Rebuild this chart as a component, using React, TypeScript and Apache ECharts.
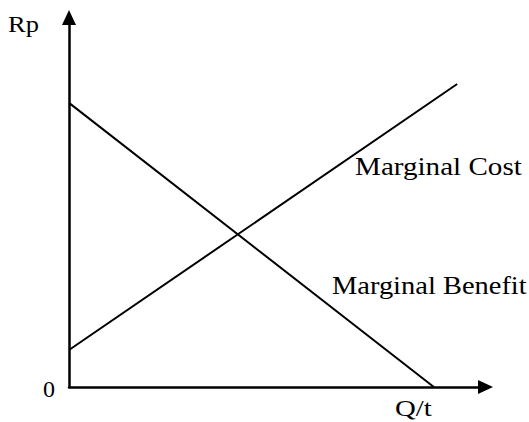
import React, { useEffect, useRef } from "react";
import * as echarts from "echarts";

const marginalBenefit: [number, number][] = [
  [0, 7.69],
  [8.76, 0],
];
const marginalCost: [number, number][] = [
  [0, 1.0],
  [9.32, 8.2],
];
const axisMax = 10;
const labels = {
  y: "Rp",
  origin: "0",
  x: "Q/t",
  cost: "Marginal Cost",
  benefit: "Marginal Benefit",
};

const FONT = "'Liberation Serif', 'Times New Roman', serif";

export default function App() {
  const ref = useRef<HTMLDivElement>(null);
  useEffect(() => {
    if (!ref.current) return;
    const chart = echarts.init(ref.current, undefined, { renderer: "svg" });
    const axisCommon = {
      type: "value" as const,
      min: 0,
      max: axisMax,
      axisLabel: { show: false },
      axisTick: { show: false },
      splitLine: { show: false },
      axisLine: {
        show: true,
        symbol: ["none", "triangle"],
        symbolSize: [14, 15],
        lineStyle: { color: "#000", width: 2.5 },
      },
    };
    const txt = (text: string, x: number, y: number, size: number, sx: number) => ({
      type: "text" as const,
      x,
      y,
      scaleX: sx,
      style: {
        text,
        fontFamily: FONT,
        fontSize: size,
        fill: "#000",
        align: "left",
        verticalAlign: "middle",
      },
    });
    chart.setOption({
      animation: false,
      backgroundColor: "#fff",
      grid: { left: 69, right: 43.5, top: 17.5, bottom: 35 },
      xAxis: axisCommon,
      yAxis: axisCommon,
      series: [
        {
          type: "line",
          data: marginalBenefit,
          symbol: "none",
          lineStyle: { color: "#000", width: 2 },
        },
        {
          type: "line",
          data: marginalCost,
          symbol: "none",
          lineStyle: { color: "#000", width: 2 },
        },
      ],
      graphic: [
        txt(labels.y, 8, 24.5, 23, 1.15),
        txt(labels.origin, 43, 389, 24, 1),
        txt(labels.x, 395, 408, 24, 1.2),
        txt(labels.cost, 355, 166, 26, 1.12),
        txt(labels.benefit, 332, 285, 26, 1.095),
      ],
    });
    return () => chart.dispose();
  }, []);
  return (
    <div
      ref={ref}
      style={{ position: "fixed", left: 0, top: 0, width: 529, height: 422 }}
    />
  );
}
